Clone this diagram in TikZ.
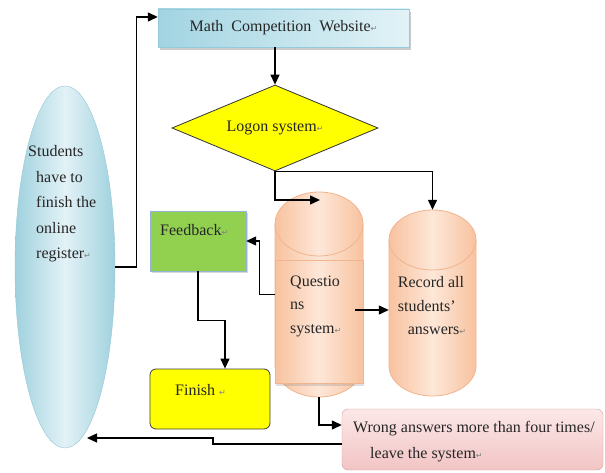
\documentclass[tikz,border=0pt]{standalone}
\usepackage{fontspec}
\setmainfont{Liberation Serif}
\newfontfamily\symfont{DejaVu Sans}
\usepackage{xcolor}
\usepackage{tikz}
\usetikzlibrary{shapes.geometric,arrows.meta,shadows}
\definecolor{WebDark}{HTML}{A2D4E2}
\definecolor{WebLight}{HTML}{E2F3F7}
\definecolor{WebLine}{HTML}{93CBDA}
\definecolor{LogYellow}{HTML}{FFFF00}
\definecolor{EllDark}{HTML}{9FD1DE}
\definecolor{EllLight}{HTML}{E3F2F6}
\definecolor{EllLine}{HTML}{93C8D6}
\definecolor{FbGreen}{HTML}{92D050}
\definecolor{FbLine}{HTML}{95B3D7}
\definecolor{CylDark}{HTML}{F8C29F}
\definecolor{CylLight}{HTML}{FDE7D8}
\definecolor{CylLine}{HTML}{F2B48C}
\definecolor{WrTop}{HTML}{FCE8E8}
\definecolor{WrBot}{HTML}{F2C4C4}
\definecolor{WrLine}{HTML}{D99A9B}
\definecolor{TxtGray}{HTML}{262626}
\definecolor{RetGray}{HTML}{808080}
\newcommand{\retm}{{\symfont\fontsize{8}{8}\selectfont\textcolor{RetGray}{↵}}}
\tikzset{
  arr/.style={-{Triangle[length=10pt,width=9pt]},line width=1.3pt,black},
  txt/.style={font=\fontsize{16}{24}\selectfont,text=TxtGray,inner sep=0pt},
  cylbody/.style={draw=CylLine,line width=.8pt,left color=CylDark,right color=CylDark,middle color=CylLight},
}

\begin{document}
\begin{tikzpicture}[x=1pt,y=1pt]
\path[use as bounding box] (0,0) rectangle (605,472);
\fill[white] (0,0) rectangle (605,472);
\node[txt,draw=WebLine,left color=WebDark,right color=WebLight,minimum width=251pt,minimum height=38pt,drop shadow={shadow xshift=2pt,shadow yshift=-3pt,opacity=.4}] (web) at (283.5,444) {Math\ \ Competition\ \ Website\retm};
\node[txt,diamond,draw=black!80,line width=.8pt,fill=LogYellow,aspect=2.4,minimum width=206pt,minimum height=86pt] (logon) at (275,344) {Logon system\retm};
\node[ellipse,inner sep=0pt,draw=EllLine,left color=EllDark,right color=EllDark,middle color=EllLight,minimum width=100pt,minimum height=362pt] (ell) at (65,205) {};
\node[txt,anchor=west,align=left,font=\fontsize{16}{25.5}\selectfont] (elltext) at (36,268) {\hspace*{-8pt}Students\\have to\\finish the\\online\\register\retm};
\node[draw=FbLine,fill=FbGreen,minimum width=96pt,minimum height=60pt,inner sep=0pt,drop shadow={shadow xshift=2pt,shadow yshift=-2pt,opacity=.3}] (fb) at (198,231) {};
\node[txt,anchor=west] (fbtext) at (160,242) {Feedback\retm};
\node[draw=black!75,line width=.8pt,fill=LogYellow,rounded corners=6pt,minimum width=120pt,minimum height=60pt,inner sep=0pt] (fin) at (210,73) {};
\node[txt,anchor=west] (fintext) at (175,82) {Finish \retm};
\path[cylbody] (275,248) -- (275,107) arc[start angle=180,end angle=360,x radius=44,y radius=32] -- (363,248) arc[start angle=0,end angle=180,x radius=44,y radius=32] -- cycle;
\draw[CylLine,line width=.8pt] (275,248) arc[start angle=180,end angle=360,x radius=44,y radius=32];
\path[cylbody,drop shadow={shadow xshift=1pt,shadow yshift=-3pt,opacity=.25}] (275,89) rectangle (363,212);
\node[inner sep=0pt,minimum width=88pt,minimum height=205pt] (ques) at (319,177.5) {};
\node[txt,anchor=west,align=left,font=\fontsize{16}{23.5}\selectfont] (qtext) at (290,166) {Questio\\ns\\system\retm};
\path[cylbody] (389,232) -- (389,106) arc[start angle=180,end angle=360,x radius=43.5,y radius=30] -- (476,232) arc[start angle=0,end angle=180,x radius=43.5,y radius=30] -- cycle;
\draw[CylLine,line width=.8pt] (389,232) arc[start angle=180,end angle=360,x radius=43.5,y radius=30];
\node[inner sep=0pt,minimum width=87pt,minimum height=186pt] (rec) at (432.5,169) {};
\node[txt,align=left,font=\fontsize{16}{23.5}\selectfont] (rtext) at (432,166) {Record all\\students’\\\hspace*{10pt}answers\retm};
\node[draw=WrLine,top color=WrTop,bottom color=WrBot,rounded corners=6pt,minimum width=261pt,minimum height=61pt,inner sep=0pt] (wr) at (472.5,32.5) {};
\node[txt,anchor=west,align=left,font=\fontsize{16}{26}\selectfont] (wrtext) at (353,30) {Wrong answers more than four times/\\\hspace*{17pt}leave the system\retm};
\coordinate (qtop) at (320,272);
\coordinate (qr) at (355,162);
\coordinate (ellin) at (87,34);
\draw[arr] (ell.east) -- ++(21,0) |- ([yshift=11pt]web.west);
\draw[arr] (logon.north |- web.south) -- (logon.north);
\draw[arr] (logon.south) |- (qtop);
\draw[arr] (logon.south) -| (rec.north);
\draw[arr] (ques.west) -- ++(-15,0) |- (fb.east);
\draw[arr] (qr) -- (qr -| rec.west);
\draw[arr] (fb.south) -- ++(0,-49) -| ([xshift=15pt]fin.north);
\draw[arr] (ques.south) |- ([yshift=14.5pt]wr.west);
\draw[arr] ([yshift=-4.5pt]wr.west) -| (213,34) -- (ellin);
\end{tikzpicture}
\end{document}
